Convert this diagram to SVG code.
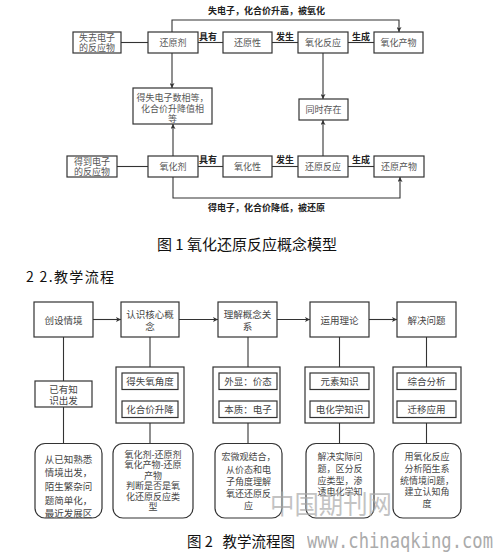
<svg xmlns="http://www.w3.org/2000/svg" width="496" height="560" viewBox="0 0 496 560">
<style>
text{font-family:"Noto Sans CJK SC","Noto Sans",sans-serif;dominant-baseline:central;text-anchor:middle}
.bx{fill:#fff;stroke:#333;stroke-width:1.2}
.t{font-size:9px;fill:#555}
.b{font-size:9.5px;fill:#444}
.s{font-size:9px;fill:#444}
.lb{font-size:9px;fill:#222;font-weight:bold}
.ln{fill:none;stroke:#333;stroke-width:1.1}
.cap{font-size:15px;fill:#111}
.wm{fill:#aaa;opacity:0.7}
</style>
<defs>
<marker id="ah" viewBox="0 0 8 8" refX="8" refY="4" markerWidth="5" markerHeight="5" orient="auto" markerUnits="userSpaceOnUse">
<path d="M0,0 L8,4 L0,8 L2,4 z" fill="#333"/>
</marker>
</defs>
<g id="connectors">
<line class="ln" x1="121" y1="42.5" x2="148" y2="42.5"/>
<line class="ln" x1="198" y1="42.5" x2="223" y2="42.5"/>
<line class="ln" x1="272" y1="42.5" x2="298" y2="42.5"/>
<line class="ln" x1="348" y1="42.5" x2="374" y2="42.5"/>
<path class="ln" d="M172,32 V20 H399 V32" marker-end="url(#ah)"/>
<line class="ln" x1="172" y1="53" x2="172" y2="88" marker-end="url(#ah)"/>
<line class="ln" x1="323" y1="53" x2="323" y2="99" marker-end="url(#ah)"/>
<line class="ln" x1="173" y1="156" x2="173" y2="124" marker-end="url(#ah)"/>
<line class="ln" x1="323" y1="156" x2="323" y2="120" marker-end="url(#ah)"/>
<line class="ln" x1="117" y1="166.5" x2="148" y2="166.5"/>
<line class="ln" x1="198" y1="166.5" x2="223" y2="166.5"/>
<line class="ln" x1="272" y1="166.5" x2="298" y2="166.5"/>
<line class="ln" x1="348" y1="166.5" x2="374" y2="166.5"/>
<path class="ln" d="M173,177 V198 H400 V177" marker-end="url(#ah)"/>
<text class="lb" x="208" y="36">具有</text>
<text class="lb" x="285" y="36">发生</text>
<text class="lb" x="361" y="36">生成</text>
<text class="lb" x="208" y="159">具有</text>
<text class="lb" x="285" y="159">发生</text>
<text class="lb" x="361" y="159">生成</text>
<text class="lb" x="266.5" y="10">失电子，化合价升高，被氧化</text>
<text class="lb" x="266.5" y="207">得电子，化合价降低，被还原</text>
<line class="ln" x1="93" y1="319.5" x2="121" y2="319.5" marker-end="url(#ah)"/>
<line class="ln" x1="179" y1="319.5" x2="218" y2="319.5" marker-end="url(#ah)"/>
<line class="ln" x1="277" y1="319.5" x2="310" y2="319.5" marker-end="url(#ah)"/>
<line class="ln" x1="369" y1="319.5" x2="397" y2="319.5" marker-end="url(#ah)"/>
<line class="ln" x1="63.5" y1="337" x2="63.5" y2="381"/>
<line class="ln" x1="63.5" y1="407" x2="63.5" y2="443.5"/>
<line class="ln" x1="150" y1="337" x2="150" y2="367"/>
<line class="ln" x1="150" y1="423" x2="150" y2="443.5"/>
<line class="ln" x1="248" y1="337" x2="248" y2="367"/>
<line class="ln" x1="248" y1="423" x2="248" y2="443.5"/>
<line class="ln" x1="339.5" y1="337" x2="339.5" y2="367"/>
<line class="ln" x1="339.5" y1="423" x2="339.5" y2="443.5"/>
<line class="ln" x1="426.5" y1="337" x2="426.5" y2="367"/>
<line class="ln" x1="426.5" y1="423" x2="426.5" y2="443.5"/>
</g>
<g id="n1"><rect class="bx" x="73" y="32" width="48" height="21"/><text class="t" x="97" y="37">失去电子</text><text class="t" x="97" y="47.5">的反应物</text></g>
<g id="n2"><rect class="bx" x="148" y="32" width="50" height="21"/><text class="t" x="173" y="42.5">还原剂</text></g>
<g id="n3"><rect class="bx" x="223" y="32" width="49" height="21"/><text class="t" x="247.5" y="42.5">还原性</text></g>
<g id="n4"><rect class="bx" x="298" y="32" width="50" height="21"/><text class="t" x="323" y="42.5">氧化反应</text></g>
<g id="n5"><rect class="bx" x="374" y="32" width="49" height="21"/><text class="t" x="398.5" y="42.5">氧化产物</text></g>
<g id="n6"><rect class="bx" x="133" y="88" width="79" height="36"/><text class="t" x="172.5" y="97">得失电子数相等，</text><text class="t" x="172.5" y="108">化合价升降值相</text><text class="t" x="172.5" y="118.5">等</text></g>
<g id="n7"><rect class="bx" x="299" y="99" width="49" height="21"/><text class="t" x="323.5" y="109.5">同时存在</text></g>
<g id="n8"><rect class="bx" x="67" y="156" width="50" height="21"/><text class="t" x="92" y="161.5">得到电子</text><text class="t" x="92" y="171.5">的反应物</text></g>
<g id="n9"><rect class="bx" x="148" y="156" width="50" height="21"/><text class="t" x="173" y="166.5">氧化剂</text></g>
<g id="n10"><rect class="bx" x="223" y="156" width="49" height="21"/><text class="t" x="247.5" y="166.5">氧化性</text></g>
<g id="n11"><rect class="bx" x="298" y="156" width="50" height="21"/><text class="t" x="323" y="166.5">还原反应</text></g>
<g id="n12"><rect class="bx" x="374" y="156" width="50" height="21"/><text class="t" x="399" y="166.5">还原产物</text></g>
<text class="cap" x="247" y="243">图 1 氧化还原反应概念模型</text>
<text class="cap" x="26" y="276" style="text-anchor:start;font-size:14px" textLength="88" lengthAdjust="spacing" xml:space="preserve">2 2.教学流程</text>
<g id="b1"><rect class="bx" x="34" y="302" width="59" height="35"/><text class="b" x="63.5" y="319.5">创设情境</text></g>
<g id="b2"><rect class="bx" x="121" y="302" width="58" height="35"/><text class="b" x="150" y="313.5">认识核心概</text><text class="b" x="150" y="325.5">念</text></g>
<g id="b3"><rect class="bx" x="218" y="302" width="59" height="35"/><text class="b" x="247.5" y="313.5">理解概念关</text><text class="b" x="247.5" y="325.5">系</text></g>
<g id="b4"><rect class="bx" x="310" y="302" width="59" height="35"/><text class="b" x="339.5" y="319.5">运用理论</text></g>
<g id="b5"><rect class="bx" x="397" y="302" width="59" height="35"/><text class="b" x="426.5" y="319.5">解决问题</text></g>
<g id="c1"><rect class="bx" x="35" y="381" width="57" height="26"/><text class="b" x="63.5" y="388.5">已有知</text><text class="b" x="63.5" y="400">识出发</text></g>
<g id="g2"><rect class="bx" x="116" y="367" width="68" height="56"/><rect class="bx" x="122" y="373" width="56" height="16.5"/><text class="b" x="150" y="381.2">得失氧角度</text><rect class="bx" x="122" y="401" width="56" height="16.5"/><text class="b" x="150" y="409.2">化合价升降</text></g>
<g id="g3"><rect class="bx" x="213" y="367" width="67" height="56"/><rect class="bx" x="219" y="373" width="58" height="16.5"/><text class="b" x="248" y="381.2">外显：价态</text><rect class="bx" x="219" y="401" width="58" height="16.5"/><text class="b" x="248" y="409.2">本质：电子</text></g>
<g id="g4"><rect class="bx" x="305" y="367" width="69" height="56"/><rect class="bx" x="310" y="373" width="59" height="16.5"/><text class="b" x="339.5" y="381.2">元素知识</text><rect class="bx" x="310" y="401" width="59" height="16.5"/><text class="b" x="339.5" y="409.2">电化学知识</text></g>
<g id="g5"><rect class="bx" x="393" y="367" width="68" height="56"/><rect class="bx" x="397" y="373" width="59" height="16.5"/><text class="b" x="426.5" y="381.2">综合分析</text><rect class="bx" x="397" y="401" width="59" height="16.5"/><text class="b" x="426.5" y="409.2">迁移应用</text></g>
<g id="r1"><rect class="bx" x="35" y="443.5" width="67" height="74.5" rx="10"/><text class="b" x="68.5" y="458.5">从已知熟悉</text><text class="b" x="68.5" y="472.3">情境出发，</text><text class="b" x="68.5" y="486.1">陌生繁杂问</text><text class="b" x="68.5" y="499.9">题简单化，</text><text class="b" x="68.5" y="513.3">最近发展区</text></g>
<g id="r2"><rect class="bx" x="113" y="443.5" width="80" height="74.5" rx="10"/><text class="s" x="153" y="454">氧化剂-还原剂</text><text class="s" x="153" y="464.7">氧化产物-还原</text><text class="s" x="153" y="475">产物</text><text class="s" x="153" y="485.5">判断是否是氧</text><text class="s" x="153" y="496">化还原反应类</text><text class="s" x="153" y="506.5">型</text></g>
<g id="r3"><rect class="bx" x="215" y="443.5" width="67" height="74.5" rx="10"/><text class="s" x="248.5" y="456.7">宏微观结合，</text><text class="s" x="248.5" y="469">从价态和电</text><text class="s" x="248.5" y="481.3">子角度理解</text><text class="s" x="248.5" y="493.3">氧还还原反</text><text class="s" x="248.5" y="505">应</text></g>
<g id="r4"><rect class="bx" x="306" y="443.5" width="68" height="74.5" rx="10"/><text class="s" x="340" y="456.7">解决实际问</text><text class="s" x="340" y="468.3">题，区分反</text><text class="s" x="340" y="480">应类型，渗</text><text class="s" x="340" y="491.7">透电化学知</text></g>
<g id="r5"><rect class="bx" x="393" y="443.5" width="68" height="74.5" rx="10"/><text class="s" x="427" y="456.7">用氧化反应</text><text class="s" x="427" y="468.3">分析陌生系</text><text class="s" x="427" y="480">统情境问题，</text><text class="s" x="427" y="491.7">建立认知角</text><text class="s" x="427" y="503.3">度</text></g>
<text class="cap" x="187" y="540" style="text-anchor:start;font-size:14.5px" xml:space="preserve">图 2   教学流程图</text>
<text class="wm" x="331" y="502" style="font-size:26px" textLength="122" lengthAdjust="spacingAndGlyphs">中国期刊网</text>
<text class="wm" x="400" y="540" style="font-size:22px;fill:#888;font-family:'DejaVu Sans Mono',monospace" textLength="186" lengthAdjust="spacingAndGlyphs">www.chinaqking.com</text>
</svg>
